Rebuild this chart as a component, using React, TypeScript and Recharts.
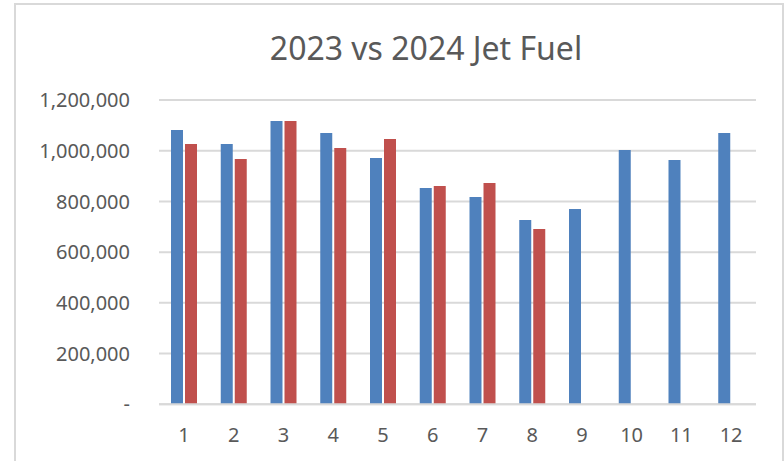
import React from 'react';
import { BarChart, Bar, XAxis, YAxis, CartesianGrid } from 'recharts';

const months = ['1', '2', '3', '4', '5', '6', '7', '8', '9', '10', '11', '12'];
const jet2023 = [1082000, 1026000, 1117000, 1070000, 971000, 853000, 817000, 727000, 770000, 1003000, 963000, 1070000];
const jet2024: (number | null)[] = [1026000, 967000, 1117000, 1011000, 1046000, 861000, 873000, 691000, null, null, null, null];
const yTicks = [0, 200000, 400000, 600000, 800000, 1000000, 1200000];

const data = months.map((m, i) => ({ month: m, y2023: jet2023[i], y2024: jet2024[i] }));

const FONT = '"Noto Sans", sans-serif';
const TEXT = '#595959';

const fmt = (v: number) => (v === 0 ? '-' : v.toLocaleString('en-US'));

export default function App() {
  return (
    <div style={{ position: 'absolute', left: 0, top: 0, width: 784, height: 461, background: '#fff', overflow: 'hidden' }}>
      <div
        style={{
          position: 'absolute',
          left: 14,
          top: 3,
          width: 770,
          height: 480,
          border: '2px solid #d9d9d9',
          boxSizing: 'border-box',
        }}
      />
      <div
        style={{
          position: 'absolute',
          left: 0,
          top: 0,
          width: 852,
          textAlign: 'center',
          fontFamily: FONT,
          fontSize: 32,
          lineHeight: '1',
          color: TEXT,
          paddingTop: 31.5,
        }}
      >
        2023 vs 2024 Jet Fuel
      </div>
      <div style={{ position: 'absolute', left: 0, top: 0 }}>
        <BarChart
          width={784}
          height={461}
          data={data}
          margin={{ top: 100, right: 28, bottom: 26.7, left: 0 }}
          barGap={2}
          barSize={12}
        >
          <CartesianGrid vertical={false} stroke="#d9d9d9" strokeWidth={2} />
          <XAxis
            dataKey="month"
            height={30}
            axisLine={{ stroke: '#d9d9d9', strokeWidth: 2 }}
            tickLine={false}
            tickSize={0}
            tickMargin={23.5}
            tick={{ fill: TEXT, fontSize: 20, fontFamily: FONT }}
            interval={0}
          />
          <YAxis
            width={159}
            domain={[0, 1200000]}
            ticks={yTicks}
            tickFormatter={fmt}
            axisLine={false}
            tickLine={false}
            tickSize={0}
            tickMargin={29}
            tick={{ fill: TEXT, fontSize: 20, fontFamily: FONT }}
            interval={0}
          />
          <Bar dataKey="y2023" fill="#4f81bd" isAnimationActive={false} />
          <Bar dataKey="y2024" fill="#c0504d" isAnimationActive={false} />
        </BarChart>
      </div>
    </div>
  );
}
